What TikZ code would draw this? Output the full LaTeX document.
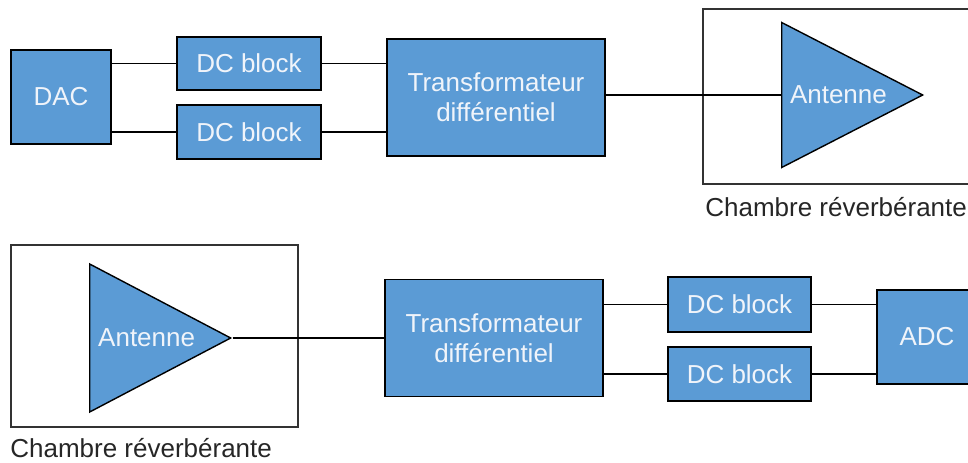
\documentclass[tikz,border=0pt]{standalone}
\usepackage{fontspec}
\setmainfont{Liberation Sans}
\usetikzlibrary{shapes.geometric}
\definecolor{blockblue}{RGB}{91,155,213}
\definecolor{blocktext}{RGB}{240,244,250}
\tikzset{
  block/.style={draw=black, line width=1.1pt, fill=blockblue, text=blocktext,
    align=center, inner sep=0pt, font=\fontsize{14.8}{17}\selectfont},
  antenna/.style={block, isosceles triangle, isosceles triangle stretches,
    shape border rotate=0, line width=0.8pt, anchor=lower side},
  chamber/.style={draw=black!80, line width=0.8pt},
  chamberlabel/.style={anchor=west, inner sep=0pt, text=black!85,
    font=\fontsize{14.8}{17}\selectfont},
  wire/.style={line width=0.6pt}
}

\begin{document}
\begin{tikzpicture}[x=0.02cm, y=-0.02cm]

    \clip (0,0) rectangle (968,463);

    % emission
	\node[block, minimum width=2cm, minimum height=1.88cm] (dac) at (61,97) {DAC};
	\node[block, minimum width=2.88cm, minimum height=1.06cm] (dcA) at (249,63.5) {DC block};
	\node[block, minimum width=2.88cm, minimum height=1.08cm] (dcB) at (249,132) {DC block};
	\node[block, minimum width=4.36cm, minimum height=2.34cm] (trA) at (496,97.5) {Transformateur\\différentiel};

    \draw [chamber] (703,9) rectangle (990,184);
	\node[chamberlabel] (chA) at (705,207) {Chambre réverbérante};
	\node[antenna, minimum width=2.9cm, minimum height=2.82cm] (antA) at (781,95) {Antenne};

	\draw [wire] (dac.east |- dcA) -- (dcA);
	\draw [wire] (dac.east |- dcB) -- (dcB);
	\draw [wire] (dcA) -- (trA.west |- dcA);
	\draw [wire] (dcB) -- (trA.west |- dcB);
	\draw [wire] (trA.east |- antA.lower side) -- (antA.lower side);

    % reception
    \draw [chamber] (11,245) rectangle (298,427);
	\node[chamberlabel] (chB) at (10,448) {Chambre réverbérante};
	\node[antenna, minimum width=2.96cm, minimum height=2.82cm] (antB) at (89,338) {Antenne};

	\node[block, minimum width=4.36cm, minimum height=2.34cm] (trB) at (494,338) {Transformateur\\différentiel};
	\node[block, minimum width=2.86cm, minimum height=1.1cm] (dcC) at (739.5,304.5) {DC block};
	\node[block, minimum width=2.86cm, minimum height=1.08cm] (dcD) at (739.5,374) {DC block};
	\node[block, minimum width=2cm, minimum height=1.88cm] (adc) at (927,337) {ADC};

	\draw [wire] (antB.apex) -- (trB.west |- antB.apex);
	\draw [wire] (trB.east |- dcC) -- (dcC);
	\draw [wire] (trB.east |- dcD) -- (dcD);
	\draw [wire] (dcC) -- (adc.west |- dcC);
	\draw [wire] (dcD) -- (adc.west |- dcD);

\end{tikzpicture}
\end{document}
